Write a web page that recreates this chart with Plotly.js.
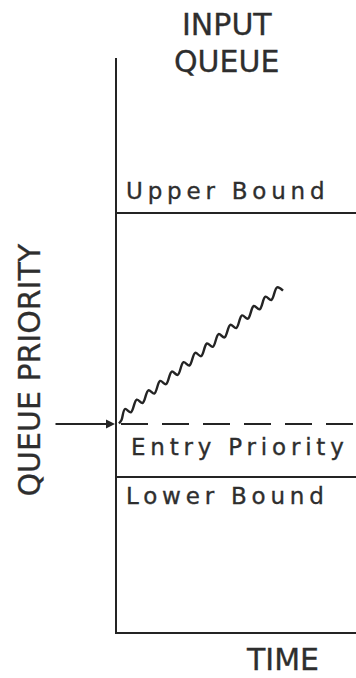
<!DOCTYPE html>
<html>
<head>
<meta charset="utf-8">
<script src="https://cdn.plot.ly/plotly-3.0.1.min.js"></script>
<style>
html, body { margin: 0; padding: 0; background: #ffffff; }
#chart { width: 356px; height: 678px; }
.annotation-text { stroke: #2e2e2e; stroke-width: 0.3px; }
text[data-unformatted="Upper Bound"],
text[data-unformatted="Entry Priority"],
text[data-unformatted="Lower Bound"] { letter-spacing: 4.8px; stroke-width: 0.35px; }
</style>
</head>
<body>
<div id="chart"></div>
<script>
// ---- data (time vs queue priority, arbitrary units) ----
const waveTime = [2, 4.5, 8.0, 13.9, 19.7, 25.6, 31.4, 37.3, 43.1, 49.0, 54.8, 60.7, 66.5, 72.4,
                  78.2, 84.1, 89.9, 95.8, 101.6, 107.5, 113.3, 119.2, 125.0, 130.9, 136.7,
                  142.6, 148.4, 154.3, 160.1, 166.0];
const wavePriority = [208.5, 212, 223.0, 219.7, 232.4, 229.0, 241.7, 238.4, 251.1, 247.8, 260.4,
                      257.1, 269.8, 266.5, 279.2, 275.8, 288.5, 285.2, 297.9, 294.6, 307.2,
                      303.9, 316.6, 313.3, 326.0, 322.6, 335.3, 332.0, 344.7, 341.4];
const upperBound = 419;
const entryPriority = 208;
const lowerBound = 155;
const boundLabels = ['Upper Bound', 'Entry Priority', 'Lower Bound'];
const titleLines = ['INPUT', 'QUEUE'];
const xTitle = 'TIME';
const yTitle = 'QUEUE PRIORITY';

const ink = '#242424';
const textInk = '#2e2e2e';
const font = 'DejaVu Sans';

const trace = {
  x: waveTime,
  y: wavePriority,
  type: 'scatter',
  mode: 'lines',
  line: { color: ink, width: 2.4, shape: 'spline', smoothing: 1 },
  hoverinfo: 'skip',
  showlegend: false
};

const hLine = (y, dash, x0) => ({
  type: 'line', xref: 'x', yref: 'y', x0: x0, x1: 239, y0: y, y1: y,
  line: { color: ink, width: 2, dash: dash }
});

const capsLabel = (text, x, y, angle) => ({
  text: text, xref: 'paper', yref: 'paper', x: x, y: y,
  xanchor: 'center', yanchor: 'middle', showarrow: false, textangle: angle || 0,
  font: { family: font, size: 30, color: textInk }
});

const boundLabel = (text, x, y) => ({
  text: text, xref: 'x', yref: 'y', x: x, y: y,
  xanchor: 'left', yanchor: 'middle', align: 'left', showarrow: false,
  font: { family: font, size: 23, color: textInk }
});

const layout = {
  width: 356,
  height: 678,
  margin: { l: 117, r: 0, t: 58, b: 46 },
  paper_bgcolor: '#ffffff',
  plot_bgcolor: '#ffffff',
  showlegend: false,
  xaxis: {
    range: [0, 239], showgrid: false, zeroline: false, showticklabels: false, ticks: '',
    showline: true, linecolor: ink, linewidth: 2, fixedrange: true
  },
  yaxis: {
    range: [0, 574], showgrid: false, zeroline: false, showticklabels: false, ticks: '',
    showline: true, linecolor: ink, linewidth: 2, fixedrange: true
  },
  shapes: [
    hLine(upperBound, 'solid', 0),
    hLine(entryPriority, '27px,14px', 4),
    hLine(lowerBound, 'solid', 0)
  ],
  annotations: [
    capsLabel(titleLines[0], 0.462, 1.059),
    capsLabel(titleLines[1], 0.460, 0.9936),
    capsLabel(xTitle, 0.6925, -0.0479),
    capsLabel(yTitle, -0.370, 0.4564, -90),
    boundLabel(boundLabels[0], 7, 441),
    boundLabel(boundLabels[1], 12, 185),
    boundLabel(boundLabels[2], 7, 136),
    {
      text: '', xref: 'x', yref: 'y', x: 0, y: entryPriority,
      ax: -63, ay: 0, axref: 'pixel', ayref: 'pixel',
      showarrow: true, arrowhead: 2, arrowsize: 0.9, arrowwidth: 2,
      arrowcolor: ink, standoff: 2
    }
  ]
};

Plotly.newPlot('chart', [trace], layout, { displayModeBar: false, staticPlot: true });
</script>
</body>
</html>
